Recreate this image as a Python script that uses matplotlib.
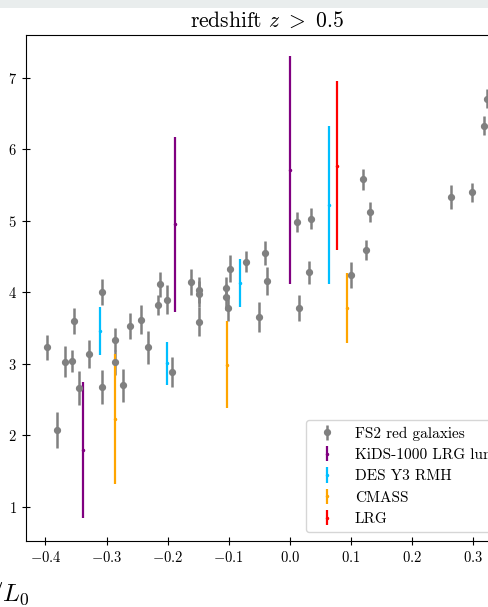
import matplotlib
matplotlib.use("Agg")
import matplotlib.pyplot as plt
from matplotlib.patches import Rectangle

plt.rcParams['font.family'] = ['cmr10', 'DejaVu Serif']
plt.rcParams['mathtext.fontset'] = 'cm'
plt.rcParams['axes.formatter.use_mathtext'] = True
plt.rcParams['axes.unicode_minus'] = True

# FS2 red galaxies
fs2_x = [-0.3975, -0.3806, -0.368, -0.357, -0.353, -0.3456, -0.328, -0.308, -0.308,
         -0.2856, -0.2856, -0.273, -0.261, -0.2435, -0.2326, -0.216, -0.213, -0.201,
         -0.193, -0.1617, -0.1485, -0.1485, -0.1485, -0.1043, -0.1043, -0.101, -0.0973,
         -0.072, -0.0498, -0.040, -0.0372, 0.0152, 0.0125, 0.0316, 0.0349, 0.0999,
         0.1195, 0.1245, 0.1315, 0.2637, 0.2986, 0.3187, 0.3236]
fs2_y = [3.23, 2.07, 3.03, 3.04, 3.60, 2.66, 3.14, 4.00, 2.68,
         3.34, 3.02, 2.70, 3.53, 3.62, 3.23, 3.82, 4.11, 3.90,
         2.89, 4.14, 4.03, 3.98, 3.59, 4.06, 3.94, 3.78, 4.33,
         4.43, 3.66, 4.55, 4.16, 3.78, 4.99, 4.28, 5.03, 4.24,
         5.58, 4.59, 5.12, 5.33, 5.40, 6.33, 6.71]
fs2_err = [0.18, 0.25, 0.22, 0.15, 0.18, 0.24, 0.20, 0.18, 0.24,
           0.16, 0.17, 0.23, 0.18, 0.20, 0.23, 0.14, 0.18, 0.20,
           0.21, 0.18, 0.18, 0.18, 0.20, 0.16, 0.18, 0.18, 0.19,
           0.15, 0.21, 0.17, 0.20, 0.18, 0.14, 0.16, 0.15, 0.18,
           0.15, 0.14, 0.14, 0.17, 0.13, 0.13, 0.13]

# KiDS-1000 LRG luminous
kids_x = [-0.338, -0.188, 0.0]
kids_y = [1.79, 4.95, 5.71]
kids_err = [0.95, 1.22, 1.59]

# DES Y3 RMH
des_x = [-0.3107, -0.2015, -0.0814, 0.0644]
des_y = [3.46, 3.01, 4.13, 5.22]
des_err = [0.34, 0.30, 0.33, 1.11]

# CMASS
cmass_x = [-0.286, -0.102, 0.0933]
cmass_y = [2.23, 2.99, 3.78]
cmass_err = [0.91, 0.61, 0.49]

# LRG
lrg_x = [0.078]
lrg_y = [5.77]
lrg_err = [1.18]

fig = plt.figure(figsize=(4.88, 6.07), dpi=100)
fig.patches.append(Rectangle((0, 599 / 607), 1, 8 / 607, transform=fig.transFigure,
                             facecolor='#e9eded', edgecolor='none', zorder=0))
ax = fig.add_axes([25.7 / 488, 66.3 / 607, 481.6 / 488, 505.7 / 607])

ax.errorbar(fs2_x, fs2_y, yerr=fs2_err, fmt='o', color='gray', ms=4.2,
            elinewidth=1.8, capsize=0, label='FS2 red galaxies')
ax.errorbar(kids_x, kids_y, yerr=kids_err, fmt='.', color='purple', ms=3,
            elinewidth=1.6, capsize=0, label='KiDS-1000 LRG luminous')
ax.errorbar(des_x, des_y, yerr=des_err, fmt='.', color='deepskyblue', ms=3,
            elinewidth=1.6, capsize=0, label='DES Y3 RMH')
ax.errorbar(cmass_x, cmass_y, yerr=cmass_err, fmt='.', color='orange', ms=3,
            elinewidth=1.6, capsize=0, label='CMASS')
ax.errorbar(lrg_x, lrg_y, yerr=lrg_err, fmt='.', color='red', ms=3,
            elinewidth=1.6, capsize=0, label='LRG')

ax.set_xlim(-0.4324, 0.3564)
ax.set_ylim(0.526, 7.60)
ax.set_xticks([-0.4, -0.3, -0.2, -0.1, 0.0, 0.1, 0.2, 0.3])
ax.set_yticks([1, 2, 3, 4, 5, 6, 7])
ax.tick_params(direction='inout', length=6, labelsize=10.5)
ax.set_title(r'redshift $z\ >\ 0.5$', fontsize=15.5)

ax.legend(loc='lower left', bbox_to_anchor=(0.582, 0.017), borderaxespad=0,
          fontsize=11)

fig.text(30 / 488, 6 / 607, r'$L/L_0$', ha='right', va='baseline', fontsize=18)

fig.savefig('out.png', dpi=100)
